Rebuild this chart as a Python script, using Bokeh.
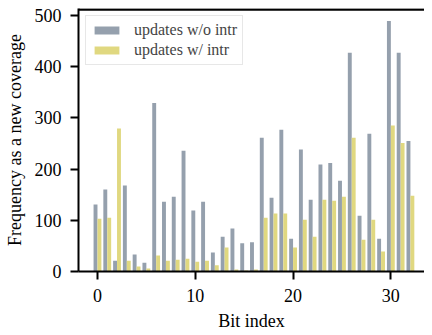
from bokeh.plotting import figure
from bokeh.models import ColumnDataSource, Range1d, FixedTicker, Legend, LegendItem, Span
from bokeh.transform import dodge
from bokeh.embed import file_html
from bokeh.resources import INLINE

bits = list(range(33))
updates_wo_intr = [131, 160, 21, 168, 33, 17, 329, 136, 146, 236, 119, 136, 37, 68, 84, 55, 57,
                   261, 144, 277, 64, 238, 140, 209, 212, 177, 427, 109, 269, 64, 489, 427, 255]
updates_w_intr = [103, 105, 279, 21, 10, 6, 31, 21, 23, 25, 19, 21, 12, 47, 4, 2, 4,
                  105, 113, 113, 47, 101, 68, 140, 138, 146, 261, 62, 101, 39, 285, 251, 148]
x_ticks = [0, 10, 20, 30]
y_ticks = [0, 100, 200, 300, 400, 500]

GRAY = "#95A0AD"
YELLOW = "#E0D880"
FONT = "Liberation Serif"
Y_MAX = 513.5

src = ColumnDataSource(dict(bit=bits, wo=updates_wo_intr, w=updates_w_intr))

p = figure(width=424, height=333, output_backend="svg", toolbar_location=None,
           x_range=Range1d(-1.94, 33.44), y_range=Range1d(0, Y_MAX),
           min_border_left=78, min_border_right=0, min_border_top=8, min_border_bottom=62)
p.outline_line_color = None
p.grid.visible = False
p.background_fill_color = "white"
p.border_fill_color = "white"

r1 = p.vbar(x=dodge('bit', -0.2, range=p.x_range), top='wo', width=0.4, source=src,
            fill_color=GRAY, line_color=None)
r2 = p.vbar(x=dodge('bit', 0.2, range=p.x_range), top='w', width=0.4, source=src,
            fill_color=YELLOW, line_color=None)

xa = p.xaxis[0]
ya = p.yaxis[0]
for ax in (xa, ya):
    ax.axis_line_width = 2
    ax.axis_line_color = "black"
    ax.major_tick_line_width = 2
    ax.major_tick_line_color = "black"
    ax.major_tick_out = 8
    ax.major_tick_in = 0
    ax.minor_tick_line_color = None
    ax.major_label_text_font = FONT
    ax.major_label_text_font_size = "18px"
    ax.major_label_text_color = "black"
    ax.axis_label_text_font = FONT
    ax.axis_label_text_font_size = "18px"
    ax.axis_label_text_font_style = "normal"
    ax.axis_label_text_color = "black"

xa.ticker = FixedTicker(ticks=x_ticks)
ya.ticker = FixedTicker(ticks=y_ticks)
xa.axis_label = "Bit index"
ya.axis_label = "Frequency as a new coverage"
xa.major_label_standoff = 9
xa.axis_label_standoff = 6
ya.major_label_standoff = 9
ya.axis_label_standoff = 7

# top spine, drawn just inside the frame so it is not clipped away
top_spine = Span(location=Y_MAX * 0.996, dimension="width", line_color="black", line_width=2.5)
p.add_layout(top_spine)

legend = Legend(items=[LegendItem(label="updates w/o intr", renderers=[r1]),
                       LegendItem(label="updates w/ intr", renderers=[r2])],
                location="top_left", margin=7, padding=5, spacing=2,
                glyph_width=31, glyph_height=10, label_height=18, label_standoff=12,
                label_text_font=FONT, label_text_font_size="16px",
                border_line_color="#D0D0D0", border_line_width=1.5,
                background_fill_color="white", background_fill_alpha=0.8)
p.add_layout(legend)

open("out.html", "w").write(file_html(p, INLINE))
